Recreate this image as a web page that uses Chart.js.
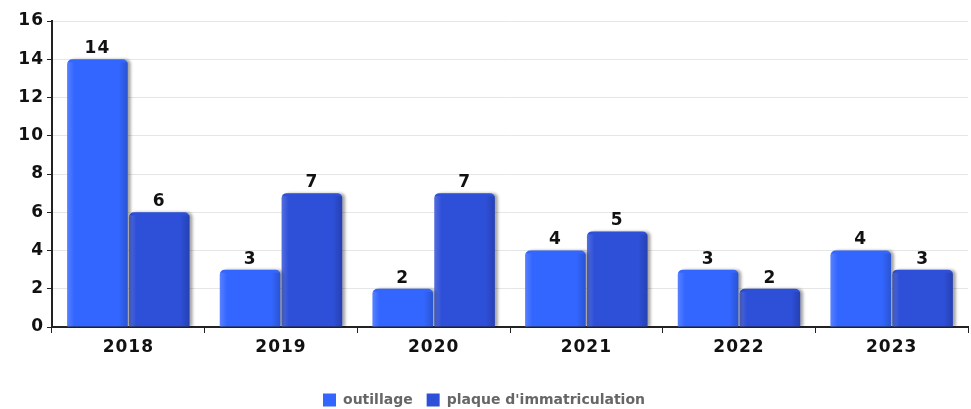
<!DOCTYPE html>
<html>
<head>
<meta charset="utf-8">
<script src="https://cdn.jsdelivr.net/npm/chart.js@4/dist/chart.umd.min.js"></script>
<style>
  html, body { margin: 0; padding: 0; background: #fff; }
  #wrap { width: 971px; height: 409px; }
</style>
</head>
<body>
<div id="wrap"><canvas id="mycanvas" width="971" height="409"></canvas></div>
<script>
var years = ['2018', '2019', '2020', '2021', '2022', '2023'];
var outillage = [14, 3, 2, 4, 3, 4];
var plaque = [6, 7, 7, 5, 2, 3];
var yTicks = [0, 2, 4, 6, 8, 10, 12, 14, 16];

// valeurs au-dessus des barres + petit relief
var barLabels = {
	id: 'barLabels',
	beforeInit: function(chart) {
		var draw = chart.legend.draw;
		chart.legend.draw = function() {
			var old = this.ctx.letterSpacing;
			this.ctx.letterSpacing = '0px';
			draw.apply(this, arguments);
			this.ctx.letterSpacing = old;
		};
	},
	beforeDraw: function(chart) {
		chart.ctx.letterSpacing = '1px';
	},
	beforeDatasetsDraw: function(chart) {
		chart.ctx.save();
		chart.ctx.shadowColor = 'rgba(0,0,0,0.35)';
		chart.ctx.shadowOffsetX = 3;
		chart.ctx.shadowOffsetY = 0;
		chart.ctx.shadowBlur = 3;
	},
	afterDatasetsDraw: function(chart) {
		var ctx = chart.ctx;
		ctx.restore();
		ctx.save();
		chart.data.datasets.forEach(function(ds, di) {
			chart.getDatasetMeta(di).data.forEach(function(bar, i) {
				var w = bar.width, left = bar.x - w / 2;
				var g = ctx.createLinearGradient(left, 0, left + w, 0);
				g.addColorStop(0, 'rgba(255,255,255,0.18)');
				g.addColorStop(0.12, 'rgba(255,255,255,0)');
				g.addColorStop(0.85, 'rgba(0,0,0,0)');
				g.addColorStop(1, 'rgba(0,0,0,0.18)');
				ctx.fillStyle = g;
				ctx.fillRect(left, bar.y + 3, w, bar.base - bar.y - 3);
				ctx.fillStyle = '#111';
				ctx.font = 'bold 17px "DejaVu Sans"';
				ctx.textAlign = 'center';
				ctx.textBaseline = 'bottom';
				ctx.fillText(ds.data[i], bar.x, bar.y - 2);
			});
		});
		ctx.restore();
	}
};

var ctx = document.getElementById('mycanvas');
var chart = new Chart(ctx, {
	type: 'bar',
	data: {
		labels: years,
		datasets: [
			{
				label: 'outillage',
				data: outillage,
				backgroundColor: '#3366ff',
				borderRadius: { topLeft: 5, topRight: 5 },
				borderSkipped: 'bottom',
				categoryPercentage: 0.81,
				barPercentage: 0.98
			},
			{
				label: "plaque d'immatriculation",
				data: plaque,
				backgroundColor: '#2e4fd8',
				borderRadius: { topLeft: 5, topRight: 5 },
				borderSkipped: 'bottom',
				categoryPercentage: 0.81,
				barPercentage: 0.98
			}
		]
	},
	options: {
		responsive: false,
		animation: false,
		layout: { padding: { top: 21, right: 3, left: 0, bottom: -8 } },
		plugins: {
			tooltip: { enabled: false },
			legend: {
				position: 'bottom',
				labels: {
					boxWidth: 13,
					boxHeight: 13,
					color: '#666',
					padding: 14,
					font: { family: 'DejaVu Sans', size: 14, weight: 'bold' }
				}
			}
		},
		scales: {
			x: {
				grid: { display: true, drawOnChartArea: false, offset: true, color: '#222', tickLength: 6 },
				border: { color: '#222', width: 2 },
				ticks: { color: '#111', padding: 4, font: { family: 'DejaVu Sans', size: 17, weight: 'bold' } },
				afterFit: function(axis) { axis.height = 52; }
			},
			y: {
				min: 0,
				max: 16,
				afterBuildTicks: function(axis) {
					axis.ticks = yTicks.map(function(v) { return { value: v }; });
				},
				afterFit: function(axis) { axis.width = 52; },
				grid: { color: '#e6e6e6', tickColor: '#222', tickLength: 5 },
				border: { color: '#222', width: 2 },
				ticks: { color: '#111', padding: 3, font: { family: 'DejaVu Sans', size: 17, weight: 'bold' } }
			}
		}
	},
	plugins: [barLabels]
});
</script>
</body>
</html>
